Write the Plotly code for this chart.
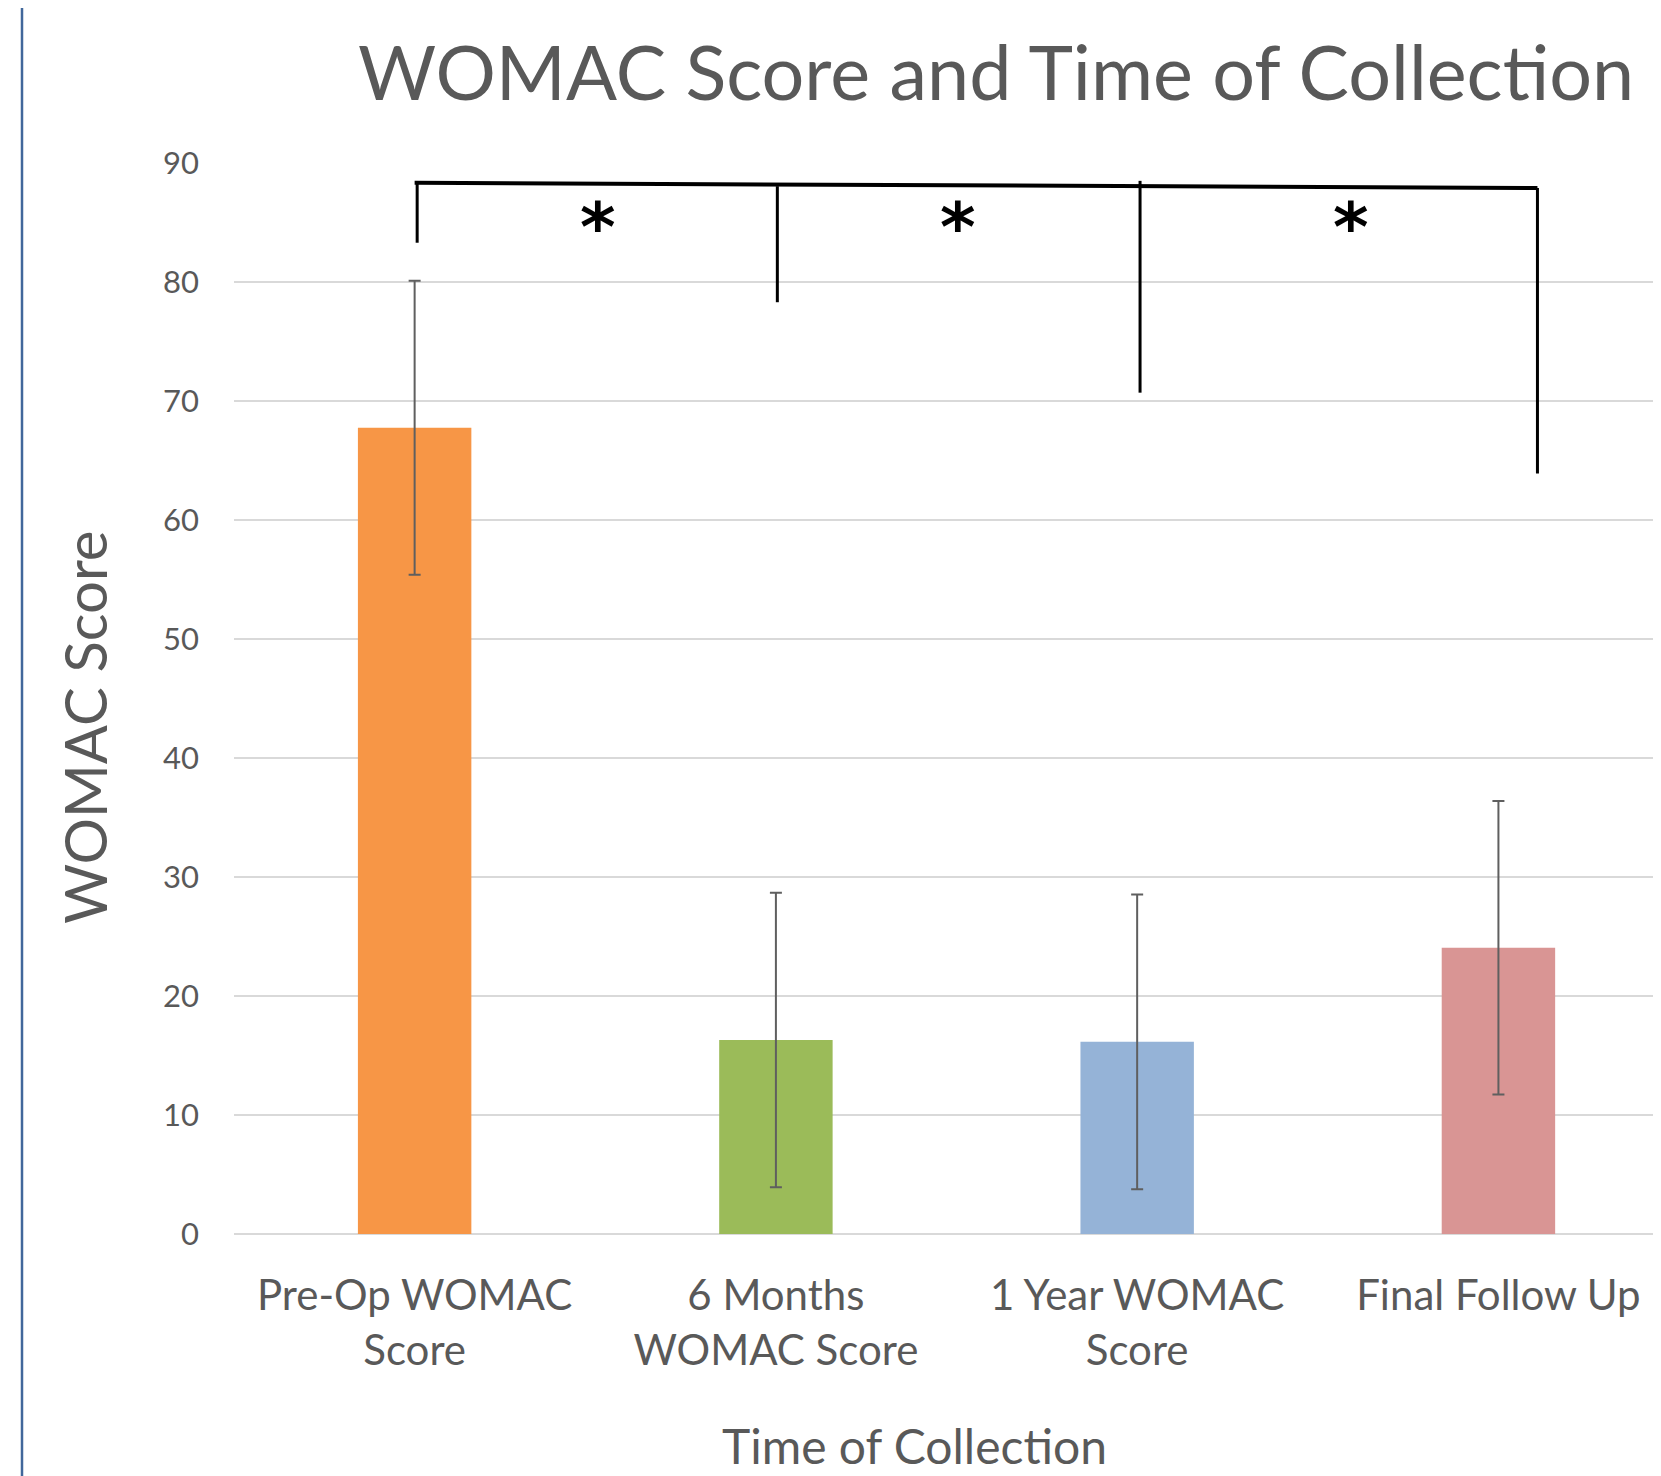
import plotly.graph_objects as go

# ---- data ----
categories = ["Pre-Op WOMAC<br>Score", "6 Months<br>WOMAC Score", "1 Year WOMAC<br>Score", "Final Follow Up"]
means = [67.75, 16.3, 16.15, 24.05]
errors = [12.35, 12.37, 12.38, 12.33]
bar_colors = ["#F79646", "#9BBB59", "#95B3D7", "#D99594"]
y_ticks = [0, 10, 20, 30, 40, 50, 60, 70, 80, 90]

# significance bracket (category-index positions, score values)
bracket_line_x = [0.0, 3.108]
bracket_line_y = [88.33, 87.9]
bracket_drop_x = [0.007, 1.004, 2.008, 3.108]
bracket_drop_top = [88.33, 88.05, 88.5, 87.9]
bracket_drop_bottom = [83.3, 78.3, 70.7, 63.9]
star_x = [0.508, 1.505, 2.591]
star_y = [85.5, 85.5, 85.5]

# page is offset by the default 8px body margin
OFF = 8
PAGE_W, PAGE_H = 1661, 1476
W, H = PAGE_W - OFF, PAGE_H - OFF
L, R, T = 234 - OFF, 0, 163 - OFF
B = H - (1234 - OFF)
pw, ph = W - L - R, H - T - B
def px_x(p):  # page pixel -> paper
    return (p - OFF - L) / pw
def px_y(p):
    return (H - B - (p - OFF)) / ph

TXT = "#595959"
FONT = "Lato"

fig = go.Figure()
fig.add_trace(go.Bar(
    x=list(range(len(categories))), y=means,
    marker=dict(color=bar_colors, line=dict(width=0)),
    width=0.314,
    error_y=dict(type="data", array=errors, visible=True, color="#5f5f5f", thickness=2, width=6),
    showlegend=False,
))

shapes = []
shapes.append(dict(type="line", xref="x", yref="y", x0=bracket_line_x[0], x1=bracket_line_x[1],
                   y0=bracket_line_y[0], y1=bracket_line_y[1], line=dict(color="black", width=4)))
for xv, yt, yb in zip(bracket_drop_x, bracket_drop_top, bracket_drop_bottom):
    shapes.append(dict(type="line", xref="x", yref="y", x0=xv, x1=xv, y0=yt, y1=yb,
                       line=dict(color="black", width=3)))
# left border line
shapes.append(dict(type="line", xref="paper", yref="paper", x0=px_x(22), x1=px_x(22),
                   y0=px_y(PAGE_H + 20), y1=px_y(-20), line=dict(color="#41679b", width=2.5)))

annotations = []
for sx, sy in zip(star_x, star_y):
    annotations.append(dict(x=sx, y=sy, xref="x", yref="y", text="<b>*</b>", showarrow=False,
                            font=dict(family="DejaVu Sans", size=68, color="black"),
                            xanchor="center", yanchor="middle", yshift=-11))
annotations.append(dict(x=px_x(356), y=px_y(118), xref="paper", yref="paper",
                        text="WOMAC Score and Time of Collection", showarrow=False,
                        xanchor="left", yanchor="bottom",
                        font=dict(family=FONT, size=75.5, color=TXT)))
annotations.append(dict(x=px_x(914), y=px_y(1445), xref="paper", yref="paper",
                        text="Time of Collection", showarrow=False,
                        xanchor="center", yanchor="middle",
                        font=dict(family=FONT, size=48, color=TXT)))
annotations.append(dict(x=px_x(84), y=px_y(728), xref="paper", yref="paper",
                        text="WOMAC Score", showarrow=False, textangle=-90,
                        xanchor="center", yanchor="middle",
                        font=dict(family=FONT, size=58, color=TXT)))

fig.update_layout(
    width=W, height=H, autosize=False,
    margin=dict(l=L, r=R, t=T, b=B, pad=0),
    paper_bgcolor="white", plot_bgcolor="white",
    shapes=shapes, annotations=annotations,
)
fig.update_xaxes(
    range=[-0.5, 3.45], tickmode="array", tickvals=list(range(len(categories))), ticktext=categories,
    tickfont=dict(family=FONT, size=42, color=TXT), showgrid=False, zeroline=False,
    showline=False, ticks="", ticklabelstandoff=33,
)
fig.update_yaxes(
    range=[0, 90], tickvals=y_ticks, tickfont=dict(family=FONT, size=31, color=TXT),
    showgrid=True, gridcolor="#d9d9d9", gridwidth=2, zeroline=True, zerolinecolor="#d9d9d9",
    zerolinewidth=2, showline=False, ticks="", ticklabelstandoff=34,
)

fig.write_html("out.html")
